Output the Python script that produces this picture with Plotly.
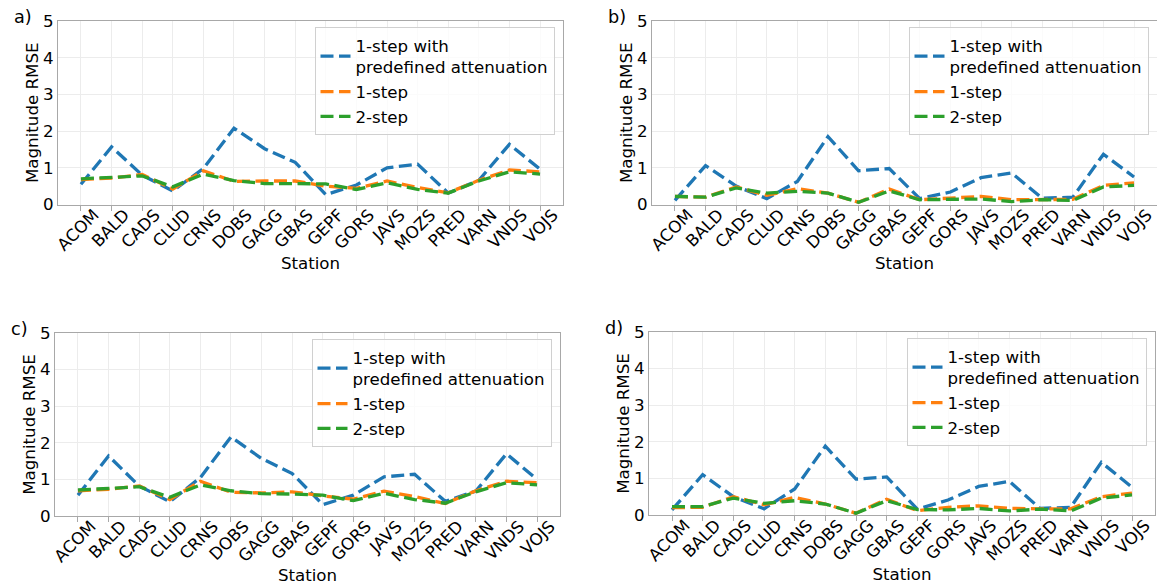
import plotly.graph_objects as go

# Stations on the x axis
stations = ["ACOM", "BALD", "CADS", "CLUD", "CRNS", "DOBS", "GAGG", "GBAS",
            "GEPF", "GORS", "JAVS", "MOZS", "PRED", "VARN", "VNDS", "VOJS"]

# Panel a) magnitude RMSE per station
a_predef = [0.55, 1.57, 0.80, 0.37, 0.98, 2.08, 1.52, 1.15, 0.27, 0.53, 1.00, 1.10, 0.31, 0.66, 1.64, 0.96]
a_one = [0.68, 0.72, 0.82, 0.42, 0.92, 0.63, 0.64, 0.64, 0.50, 0.44, 0.64, 0.46, 0.32, 0.66, 0.94, 0.89]
a_two = [0.70, 0.73, 0.78, 0.48, 0.83, 0.65, 0.57, 0.57, 0.56, 0.41, 0.59, 0.41, 0.31, 0.64, 0.89, 0.83]

# Panel b)
b_predef = [0.11, 1.06, 0.50, 0.16, 0.63, 1.85, 0.92, 0.98, 0.16, 0.34, 0.73, 0.86, 0.17, 0.20, 1.37, 0.75]
b_one = [0.22, 0.20, 0.48, 0.25, 0.43, 0.31, 0.06, 0.42, 0.13, 0.18, 0.22, 0.13, 0.13, 0.14, 0.52, 0.59]
b_two = [0.22, 0.20, 0.45, 0.31, 0.36, 0.31, 0.06, 0.37, 0.13, 0.13, 0.15, 0.08, 0.13, 0.11, 0.48, 0.52]

# Panel c)
c_predef = [0.57, 1.64, 0.82, 0.39, 1.05, 2.16, 1.57, 1.16, 0.31, 0.57, 1.07, 1.14, 0.40, 0.68, 1.70, 1.00]
c_one = [0.69, 0.73, 0.82, 0.45, 0.95, 0.65, 0.63, 0.66, 0.55, 0.46, 0.68, 0.53, 0.34, 0.69, 0.95, 0.91]
c_two = [0.71, 0.75, 0.80, 0.51, 0.85, 0.69, 0.61, 0.60, 0.57, 0.42, 0.62, 0.45, 0.35, 0.66, 0.91, 0.85]

# Panel d)
d_predef = [0.14, 1.10, 0.50, 0.17, 0.71, 1.88, 0.98, 1.04, 0.16, 0.41, 0.78, 0.92, 0.18, 0.21, 1.44, 0.76]
d_one = [0.20, 0.21, 0.50, 0.28, 0.48, 0.30, 0.05, 0.43, 0.12, 0.21, 0.25, 0.18, 0.17, 0.17, 0.50, 0.60]
d_two = [0.23, 0.23, 0.46, 0.32, 0.39, 0.30, 0.05, 0.39, 0.15, 0.14, 0.18, 0.11, 0.16, 0.11, 0.46, 0.55]

series_names = ["1-step with<br>predefined attenuation", "1-step", "2-step"]
colors = ["#1f77b4", "#ff7f0e", "#2ca02c"]
panel_labels = ["a)", "b)", "c)", "d)"]
panels = [
    (a_predef, a_one, a_two),
    (b_predef, b_one, b_two),
    (c_predef, c_one, c_two),
    (d_predef, d_one, d_two),
]

W, H = 1157, 588
FONT = "DejaVu Sans"
FS = 16.67

# plot-area boxes in pixels: (left, right, top, bottom)
boxes = [
    (58, 563, 21, 204.5),
    (652, 1157, 21, 204.5),
    (55, 560, 333, 516),
    (649, 1155, 332, 515),
]

fig = go.Figure()
layout = dict(
    width=W, height=H,
    margin=dict(l=0, r=0, t=0, b=0),
    paper_bgcolor="white", plot_bgcolor="white",
    font=dict(family=FONT, size=FS, color="black"),
    showlegend=True,
    annotations=[],
)

frame_col = "#a8a8a8"
grid_col = "#ececec"

for i, (data, box) in enumerate(zip(panels, boxes)):
    n = i + 1
    xa = "x" if n == 1 else f"x{n}"
    ya = "y" if n == 1 else f"y{n}"
    leg = "legend" if n == 1 else f"legend{n}"
    for s, (vals, name, col) in enumerate(zip(data, series_names, colors)):
        fig.add_trace(go.Scatter(
            x=stations, y=vals, mode="lines", name=name,
            line=dict(color=col, width=3.3, dash="13px,5.5px"),
            xaxis=xa, yaxis=ya, legend=leg, legendgroup=f"g{n}_{s}",
            showlegend=True,
        ))
    l, r, t, b = box
    xdom = [l / W, r / W]
    ydom = [1 - b / H, 1 - t / H]
    xkey = "xaxis" if n == 1 else f"xaxis{n}"
    ykey = "yaxis" if n == 1 else f"yaxis{n}"
    layout[xkey] = dict(
        domain=xdom, anchor=ya, type="category",
        range=[-0.75, 15.75],
        showline=True, mirror=True, linecolor=frame_col, linewidth=1.2,
        showgrid=True, gridcolor=grid_col, gridwidth=1,
        ticks="outside", ticklen=5, tickcolor=frame_col, tickwidth=1,
        tickangle=-45, ticklabelshift=13, ticklabelstandoff=-12,
        tickfont=dict(family=FONT, size=FS, color="black"),
        title=dict(text="Station", font=dict(family=FONT, size=FS), standoff=2),
        automargin=False, zeroline=False,
    )
    layout[ykey] = dict(
        domain=ydom, anchor=xa,
        range=[0, 5], dtick=1, tick0=0,
        showline=True, mirror=True, linecolor=frame_col, linewidth=1.2,
        showgrid=True, gridcolor=grid_col, gridwidth=1,
        ticks="",
        tickfont=dict(family=FONT, size=FS, color="black"),
        title=dict(text="Magnitude RMSE", font=dict(family=FONT, size=FS), standoff=0),
        automargin=False, zeroline=False,
    )
    layout[leg] = dict(
        x=(r - 8.5) / W, y=1 - (t + 6) / H,
        xanchor="right", yanchor="top",
        xref="paper", yref="paper",
        bgcolor="rgba(255,255,255,0.8)", bordercolor="#d0d0d0", borderwidth=1,
        font=dict(family=FONT, size=FS, color="black"),
        tracegroupgap=0, valign="middle",
    )
    layout["annotations"].append(dict(
        text=panel_labels[i], xref="paper", yref="paper",
        x=(l - 46) / W, y=1 - (t - 4) / H,
        xanchor="left", yanchor="middle", showarrow=False,
        font=dict(family=FONT, size=FS + 1, color="black"),
    ))

fig.update_layout(**layout)
fig.write_html("out.html")
